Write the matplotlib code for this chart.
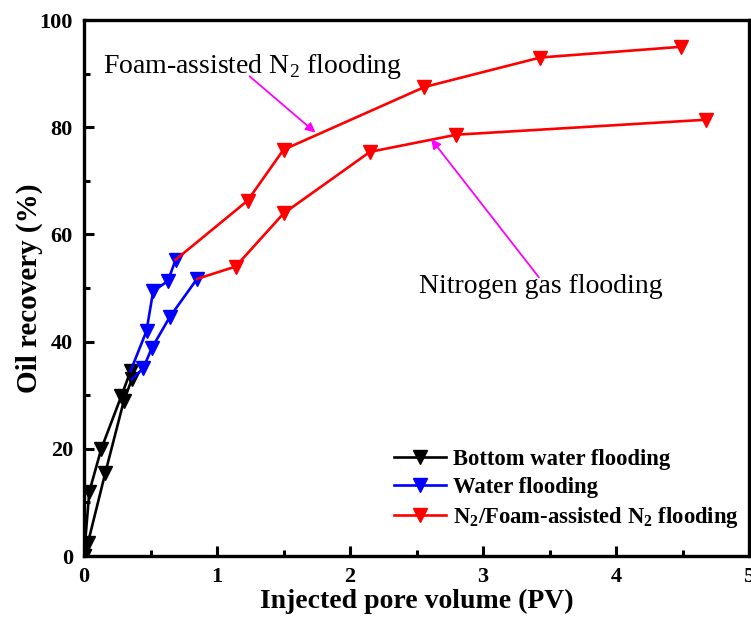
import matplotlib
matplotlib.use("Agg")
import matplotlib.pyplot as plt
from matplotlib.ticker import MultipleLocator

plt.rcParams['font.family'] = ['Liberation Serif', 'DejaVu Serif']
plt.rcParams['mathtext.fontset'] = 'custom'
plt.rcParams['mathtext.rm'] = 'Liberation Serif'
plt.rcParams['mathtext.bf'] = 'Liberation Serif:bold'

# Route 1: bottom water -> water -> foam-assisted N2
bw1_x = [0.00, 0.04, 0.13, 0.28, 0.35]
bw1_y = [0.0, 12.0, 20.0, 29.8, 34.5]
w1_x = [0.35, 0.47, 0.52, 0.63, 0.69]
w1_y = [34.5, 42.0, 49.4, 51.3, 55.3]
n1_x = [0.69, 1.23, 1.50, 2.56, 3.43, 4.49]
n1_y = [55.3, 66.3, 75.8, 87.5, 93.0, 95.0]

# Route 2: bottom water -> water -> nitrogen gas
bw2_x = [0.00, 0.03, 0.16, 0.30, 0.36]
bw2_y = [0.0, 2.5, 15.5, 29.0, 33.0]
w2_x = [0.36, 0.445, 0.51, 0.645, 0.85]
w2_y = [33.0, 35.0, 38.8, 44.6, 51.7]
n2_x = [0.85, 1.14, 1.50, 2.15, 2.80, 4.68]
n2_y = [51.7, 54.0, 63.9, 75.4, 78.6, 81.4]

labels = ['Bottom water flooding', 'Water flooding',
          r'N$_\mathbf{2}$/Foam-assisted N$_\mathbf{2}$ flooding']

fig = plt.figure(figsize=(7.51, 6.20), dpi=100)
ax = fig.add_axes([84/751, 1-556/620, (749-84)/751, (556-20)/620])

lw = 1.9
ms = 10
kw = dict(marker='v', lw=lw, ms=ms)
ax.plot(bw1_x, bw1_y, color='black', **kw)
ax.plot(bw2_x, bw2_y, color='black', **kw)
ax.plot(w1_x, w1_y, color='blue', lw=lw)
ax.plot(w1_x[1:], w1_y[1:], color='blue', marker='v', lw=0, ms=ms)
ax.plot(w2_x, w2_y, color='blue', lw=lw)
ax.plot(w2_x[1:], w2_y[1:], color='blue', marker='v', lw=0, ms=ms)
ax.plot(n1_x, n1_y, color='red', lw=lw)
ax.plot(n1_x[1:], n1_y[1:], color='red', marker='v', lw=0, ms=ms)
ax.plot(n2_x, n2_y, color='red', lw=lw)
ax.plot(n2_x[1:], n2_y[1:], color='red', marker='v', lw=0, ms=ms)
# legend proxies
h0, = ax.plot([], [], color='black', **kw)
h1, = ax.plot([], [], color='blue', **kw)
h2, = ax.plot([], [], color='red', **kw)

ax.set_xlim(0, 5)
ax.set_ylim(0, 100)
ax.xaxis.set_major_locator(MultipleLocator(1))
ax.xaxis.set_minor_locator(MultipleLocator(0.5))
ax.yaxis.set_major_locator(MultipleLocator(20))
ax.yaxis.set_minor_locator(MultipleLocator(10))
ax.tick_params(which='both', direction='in', top=False, right=False, width=2.2)
ax.tick_params(which='major', length=7, labelsize=16, pad=8)
ax.tick_params(which='minor', length=4)
for lab in ax.get_xticklabels() + ax.get_yticklabels():
    lab.set_fontweight('bold')
for s in ax.spines.values():
    s.set_linewidth(2.4)

ax.set_xlabel('Injected pore volume (PV)', fontsize=20, fontweight='bold', labelpad=1)
ax.set_ylabel('Oil recovery (%)', fontsize=21, fontweight='bold')
ax.yaxis.set_label_coords(-0.062, 0.5)

ax.legend([h0, h1, h2], labels, loc='lower right', frameon=False,
          prop={'weight': 'bold', 'size': 16.3}, handlelength=2.3,
          handletextpad=0.3, labelspacing=0.3, borderaxespad=0.3,
          bbox_to_anchor=(1.009, 0.019))

ax.annotate('', xy=(1.74, 79.0), xytext=(1.245, 89.5),
            arrowprops=dict(arrowstyle='-|>', color='magenta', lw=1.3,
                            mutation_scale=14, shrinkA=0, shrinkB=0))
ax.text(0.14, 91.4, r'Foam-assisted N$_2$ flooding', fontsize=20, va='center', ha='left')
ax.annotate('', xy=(2.61, 77.8), xytext=(3.42, 52.0),
            arrowprops=dict(arrowstyle='-|>', color='magenta', lw=1.3,
                            mutation_scale=14, shrinkA=0, shrinkB=0))
ax.text(2.52, 50.3, 'Nitrogen gas flooding', fontsize=20, va='center', ha='left')

fig.savefig('out.png', dpi=100)
